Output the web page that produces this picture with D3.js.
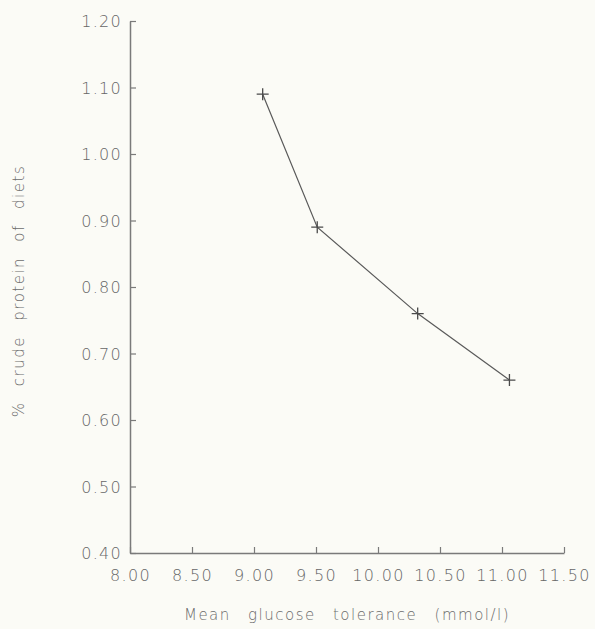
<!DOCTYPE html>
<html>
<head>
<meta charset="utf-8">
<script src="https://cdn.jsdelivr.net/npm/d3@7"></script>
<style>
  html, body { margin: 0; padding: 0; background: #fbfbf6; }
  svg { display: block; }
  text { font-family: "DejaVu Sans", sans-serif; fill: #6c6c6c; }
</style>
</head>
<body>
<svg id="chart" width="595" height="629"></svg>
<script>
// Data
const glucose = [9.07, 9.51, 10.32, 11.06];       // Mean glucose tolerance (mmol/l)
const protein = [1.09, 0.89, 0.76, 0.66];         // % crude protein of diets
const xTicks = [8.0, 8.5, 9.0, 9.5, 10.0, 10.5, 11.0, 11.5];
const yTicks = [0.4, 0.5, 0.6, 0.7, 0.8, 0.9, 1.0, 1.1, 1.2];
const xTitle = "Mean glucose tolerance (mmol/l)";
const yTitle = "% crude protein of diets";

const svg = d3.select("#chart");
svg.append("rect").attr("width", 595).attr("height", 629).attr("fill", "#fbfbf6");

const x = d3.scaleLinear().domain([8.0, 11.5]).range([130, 564]);
const y = d3.scaleLinear().domain([0.4, 1.2]).range([553, 21]);

const axisColor = "#7a7a7a";
const labelStyle = sel => sel
  .style("font-family", "'DejaVu Sans', sans-serif")
  .style("font-size", "16px")
  .style("font-weight", "200")
  .style("letter-spacing", "1.3px")
  .style("fill", "#666666");

// X axis (ticks pointing inward/up)
const gx = svg.append("g").attr("transform", `translate(0,${y(0.4)})`)
  .call(d3.axisBottom(x).tickValues(xTicks).tickSize(-6).tickSizeOuter(0).tickPadding(0).tickFormat(d3.format(".2f")));
gx.select(".domain").attr("stroke", axisColor).attr("stroke-width", 1.5).attr("fill", "none");
gx.selectAll(".tick line").attr("stroke", axisColor).attr("stroke-width", 1.2);
gx.selectAll(".tick text").attr("y", 28).attr("dy", 0).call(labelStyle);

// Y axis (ticks pointing inward/right)
const gy = svg.append("g").attr("transform", `translate(${x(8.0)},0)`)
  .call(d3.axisLeft(y).tickValues(yTicks).tickSize(-6).tickSizeOuter(0).tickPadding(0).tickFormat(d3.format(".2f")));
gy.select(".domain").attr("stroke", axisColor).attr("stroke-width", 1.5).attr("fill", "none");
gy.selectAll(".tick line").attr("stroke", axisColor).attr("stroke-width", 1.2);
gy.selectAll(".tick text").attr("x", -8).attr("dy", "0.36em").call(labelStyle);

// Data line
const pts = glucose.map((g, i) => [g, protein[i]]);
svg.append("path")
  .datum(pts)
  .attr("fill", "none")
  .attr("stroke", "#5a5a5a")
  .attr("stroke-width", 1.2)
  .attr("d", d3.line().x(d => x(d[0])).y(d => y(d[1])));

// Plus markers
svg.selectAll(".mk").data(pts).enter().append("path")
  .attr("class", "mk")
  .attr("transform", d => `translate(${x(d[0])},${y(d[1])})`)
  .attr("d", "M-6,0H6M0,-6V6")
  .attr("stroke", "#4a4a4a")
  .attr("stroke-width", 1.3)
  .attr("fill", "none");

// Axis titles
svg.append("text")
  .attr("x", 347).attr("y", 620)
  .attr("text-anchor", "middle")
  .style("font-size", "15px")
  .style("font-weight", "200")
  .style("letter-spacing", "1.5px")
  .style("word-spacing", "11px")
  .text(xTitle);

svg.append("text")
  .attr("transform", "translate(24,291) rotate(-90)")
  .attr("text-anchor", "middle")
  .style("font-size", "15px")
  .style("font-weight", "200")
  .style("letter-spacing", "1.5px")
  .style("word-spacing", "9px")
  .text(yTitle);
</script>
</body>
</html>
